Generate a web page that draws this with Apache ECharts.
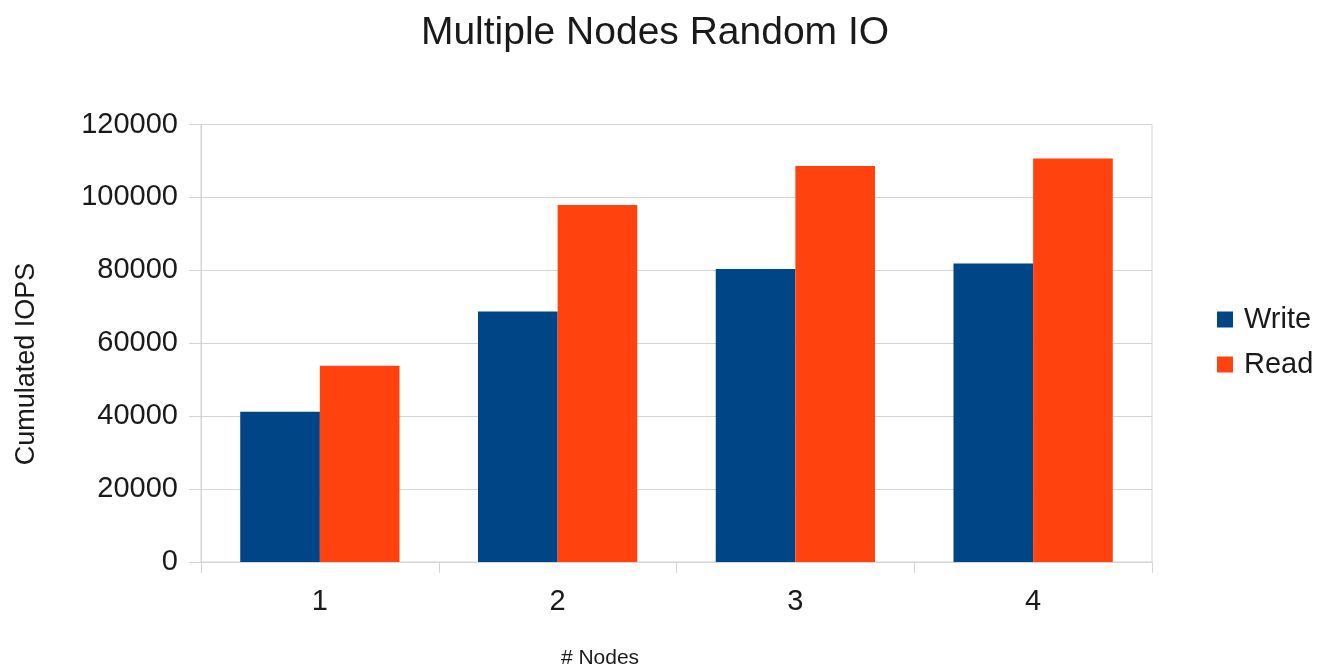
<!DOCTYPE html>
<html>
<head>
<meta charset="utf-8">
<title>Multiple Nodes Random IO</title>
<script src="https://cdn.jsdelivr.net/npm/echarts@6/dist/echarts.min.js"></script>
<style>
  html, body { margin: 0; padding: 0; background: #ffffff; }
  #chart { width: 1322px; height: 670px; }
</style>
</head>
<body>
<div id="chart"></div>
<script>
// Number of nodes on the x axis
const nodes = ['1', '2', '3', '4'];
// Cumulated IOPS per node count
const writeIops = [41200, 68700, 80400, 81900];
const readIops = [53800, 97900, 108600, 110700];

const FONT = '"Liberation Sans", Arial, sans-serif';
const TEXT = '#1a1a1a';
const GRID_LINE = '#d4d4d4';

const chart = echarts.init(document.getElementById('chart'), null, { renderer: 'canvas' });

chart.setOption({
  backgroundColor: '#ffffff',
  animation: false,
  title: [
    {
      text: 'Multiple Nodes Random IO',
      left: 655,
      top: 14,
      padding: 0,
      textAlign: 'center',
      textStyle: { fontFamily: FONT, fontSize: 39, fontWeight: 'normal', color: TEXT }
    },
    {
      text: '# Nodes',
      left: 600,
      top: 648,
      padding: 0,
      textAlign: 'center',
      textStyle: { fontFamily: FONT, fontSize: 21, fontWeight: 'normal', color: TEXT }
    }
  ],
  legend: {
    orient: 'vertical',
    left: 1217,
    top: 305,
    itemWidth: 16,
    itemHeight: 16,
    itemGap: 16,
    icon: 'rect',
    padding: 0,
    textStyle: { fontFamily: FONT, fontSize: 29, color: TEXT, padding: [0, 0, 0, 6] },
    data: ['Write', 'Read']
  },
  grid: {
    left: 201,
    right: 170,
    top: 124.5,
    bottom: 108,
    show: true,
    borderColor: GRID_LINE,
    borderWidth: 1,
    containLabel: false
  },
  xAxis: {
    type: 'category',
    data: nodes,
    axisLine: { show: true, lineStyle: { color: GRID_LINE, width: 1 } },
    axisTick: { show: true, length: 11, lineStyle: { color: GRID_LINE } },
    axisLabel: { fontFamily: FONT, fontSize: 29, color: TEXT, margin: 25 },
    splitLine: { show: false }
  },
  yAxis: {
    type: 'value',
    min: 0,
    max: 120000,
    interval: 20000,
    axisLine: { show: true, lineStyle: { color: GRID_LINE, width: 1 } },
    axisTick: { show: true, length: 12, lineStyle: { color: GRID_LINE } },
    axisLabel: {
      fontFamily: FONT,
      fontSize: 29,
      color: TEXT,
      margin: 23,
      formatter: (v) => String(v)
    },
    splitLine: { show: true, lineStyle: { color: GRID_LINE, width: 1 } }
  },
  graphic: [
    {
      type: 'text',
      x: 27,
      y: 364,
      rotation: Math.PI / 2,
      style: {
        text: 'Cumulated IOPS',
        font: '27px ' + FONT,
        fill: TEXT,
        align: 'center',
        verticalAlign: 'middle'
      }
    }
  ],
  series: [
    {
      name: 'Write',
      type: 'bar',
      data: writeIops,
      barGap: '0%',
      barCategoryGap: '33%',
      itemStyle: { color: '#004586' }
    },
    {
      name: 'Read',
      type: 'bar',
      data: readIops,
      barGap: '0%',
      barCategoryGap: '33%',
      itemStyle: { color: '#ff420e' }
    }
  ]
});
</script>
</body>
</html>
